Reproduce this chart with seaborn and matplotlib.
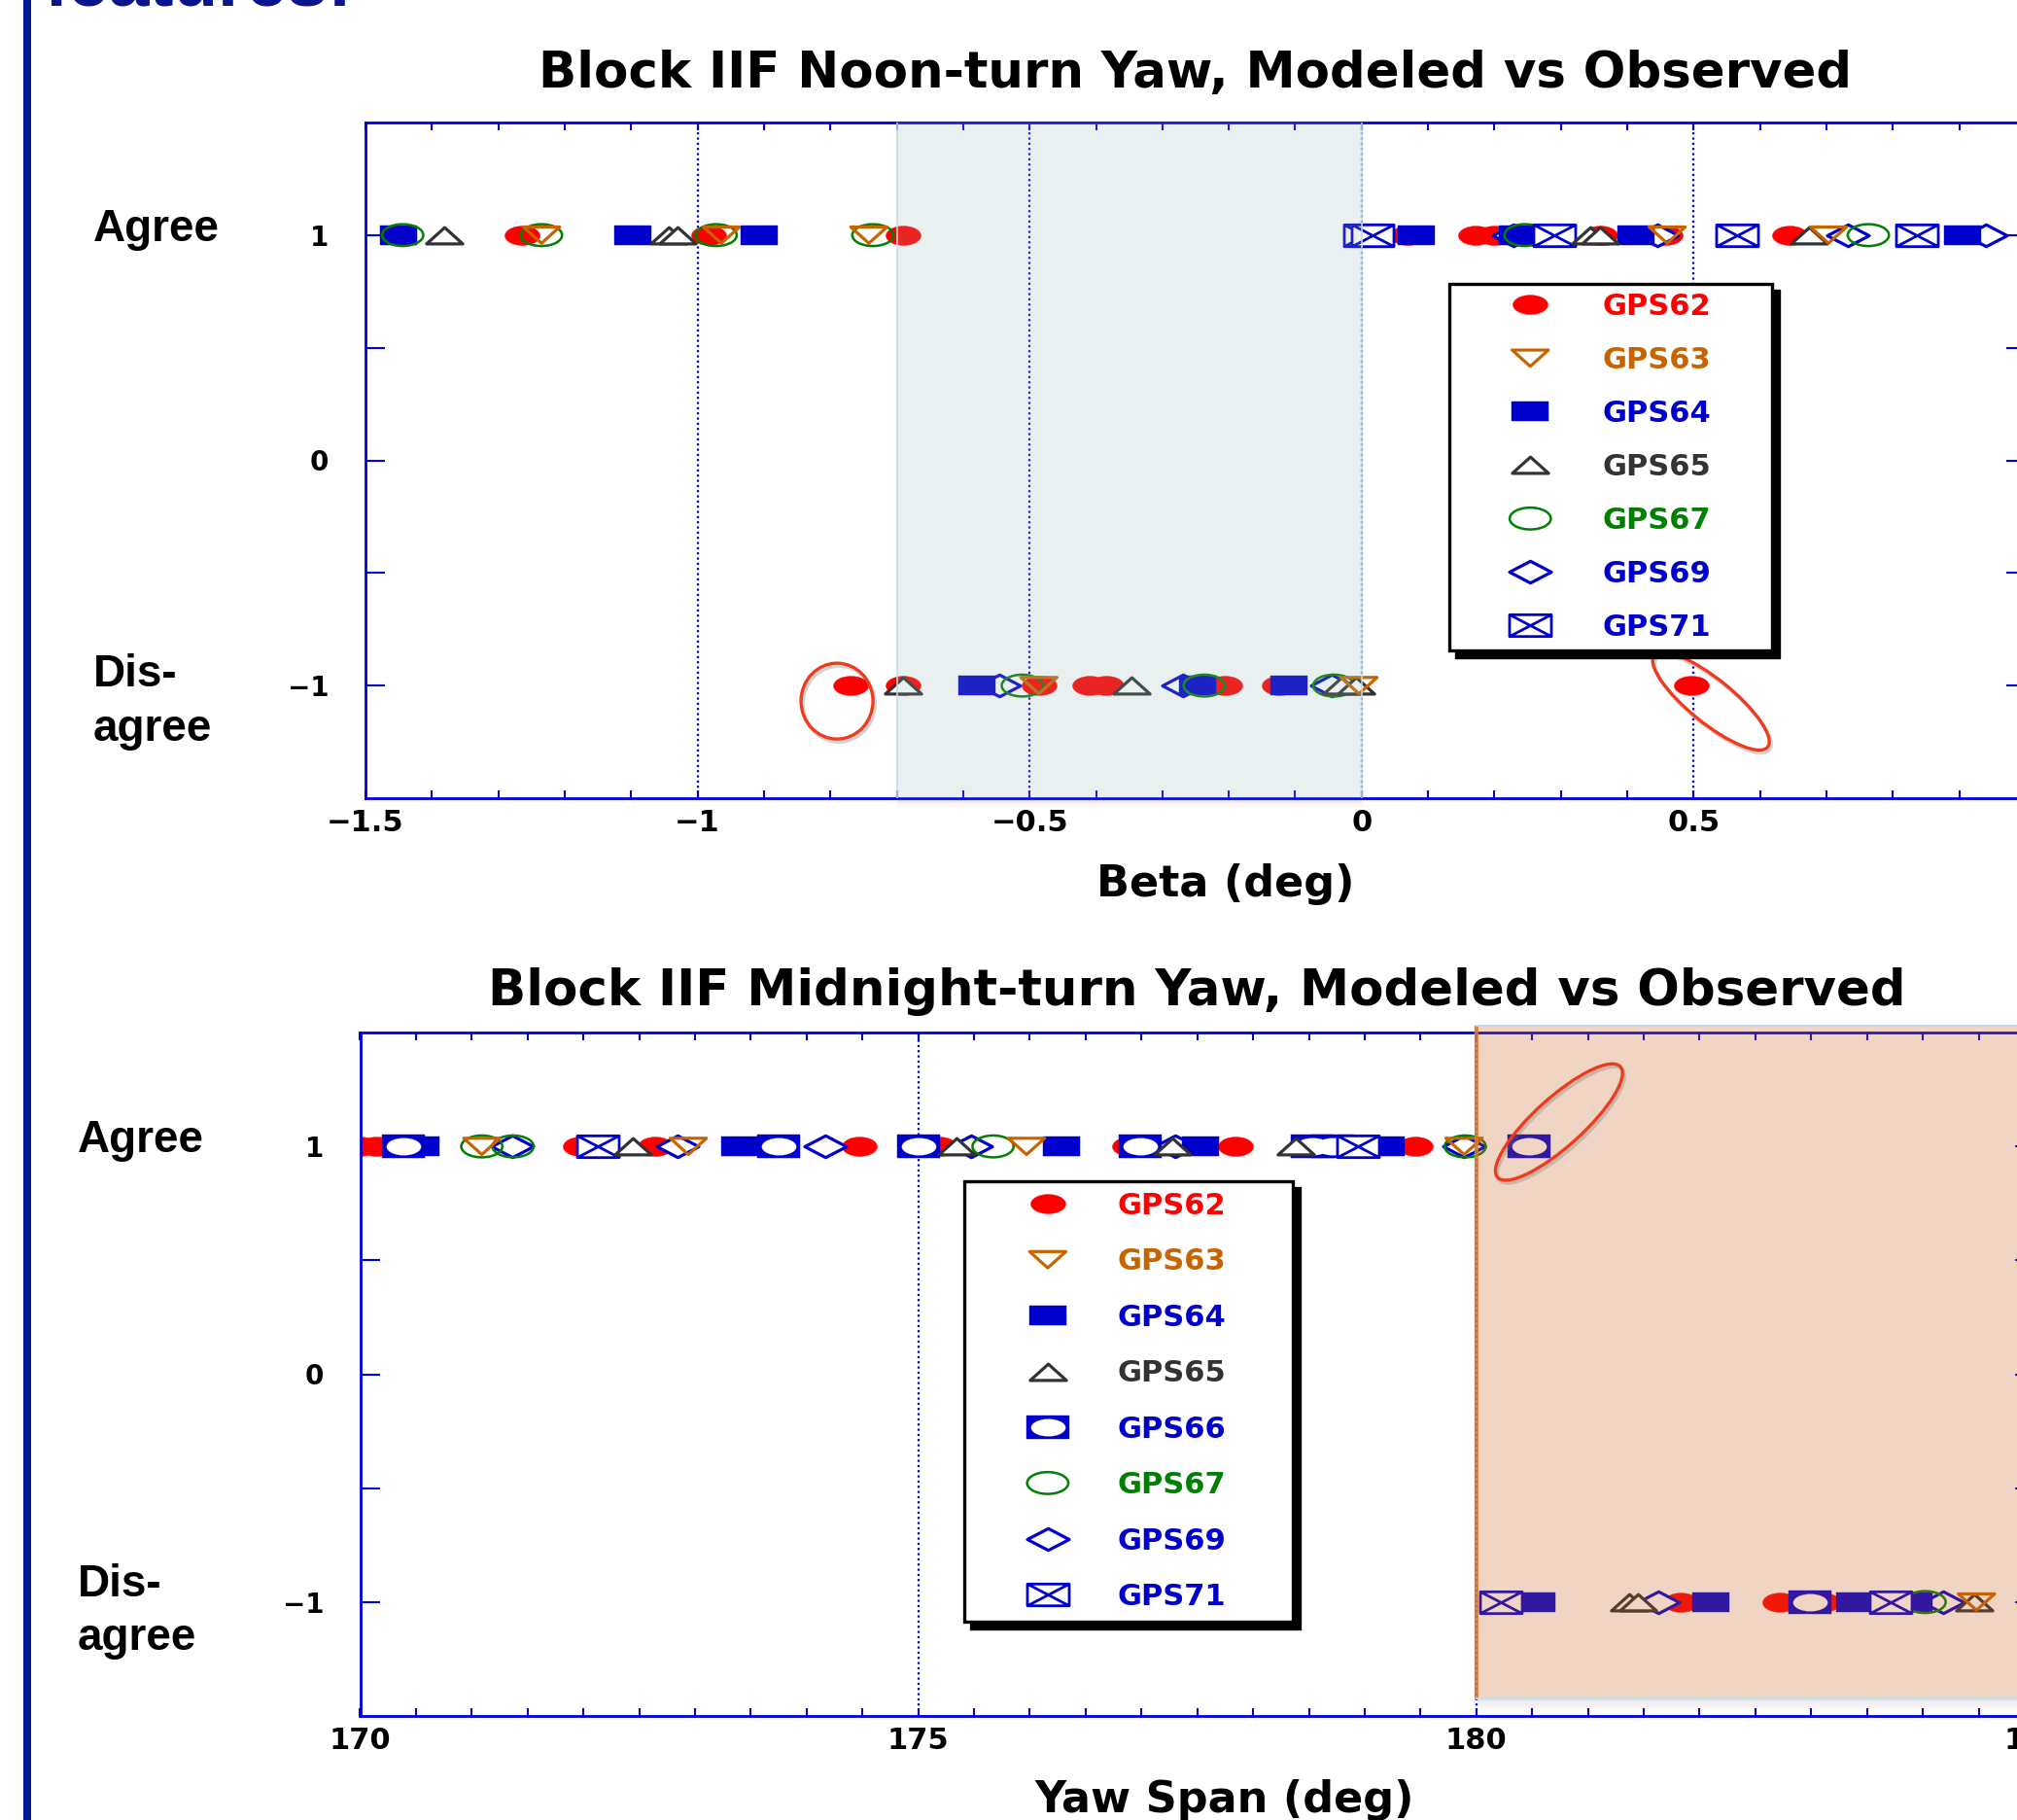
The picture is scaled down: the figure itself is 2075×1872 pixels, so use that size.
import numpy as np
import pandas as pd
import matplotlib
matplotlib.use("Agg")
import matplotlib.pyplot as plt
import matplotlib.transforms as mtransforms
from matplotlib.path import Path
from matplotlib.patches import Rectangle, Ellipse
from matplotlib.ticker import MultipleLocator, FixedLocator, FuncFormatter
import seaborn as sns

# ---------------------------------------------------------------- data
# Noon-turn yaw: beta angle (deg) of each event, split by agreement of model vs observation
noon_gps62_agree = [-1.264, -0.983, -0.691, 0.069, 0.171, 0.199, 0.359, 0.457, 0.644]
noon_gps62_disagree = [-0.770, -0.691, -0.486, -0.410, -0.385, -0.206, -0.124, 0.497]
noon_gps63_agree = [-1.235, -0.964, -0.742, 0.460, 0.703]
noon_gps63_disagree = [-0.486, -0.004]
noon_gps64_agree = [-1.450, -1.098, -0.907, 0.082, 0.234, 0.413, 0.905]
noon_gps64_disagree = [-0.579, -0.247, -0.109]
noon_gps65_agree = [-1.381, -1.043, -1.030, 0.344, 0.359, 0.673]
noon_gps65_disagree = [-0.691, -0.347, -0.030, -0.008]
noon_gps67_agree = [-1.444, -1.235, -0.972, -0.736, 0.246, 0.763]
noon_gps67_disagree = [-0.511, -0.237, -0.042]
noon_gps69_agree = [0.229, 0.445, 0.732, 0.940]
noon_gps69_disagree = [-0.546, -0.269, -0.045]
noon_gps71_agree = [0.005, 0.016, 0.290, 0.565, 0.836]
noon_gps71_disagree = []

# Midnight-turn yaw: yaw span (deg) of each event
mid_gps62_agree = [170.00, 170.14, 171.97, 172.64, 174.47, 175.19, 176.89, 177.84, 179.45]
mid_gps62_disagree = [181.83, 182.72, 183.10]
mid_gps63_agree = [171.09, 172.94, 175.97, 179.89]
mid_gps63_disagree = [184.48]
mid_gps64_agree = [170.54, 173.40, 176.28, 177.53, 179.19]
mid_gps64_disagree = [180.54, 182.10, 183.39, 183.92]
mid_gps65_agree = [172.44, 175.34, 177.28, 178.38]
mid_gps65_disagree = [181.37, 181.45, 184.46]
mid_gps66_agree = [170.39, 173.75, 175.00, 176.99, 178.53, 178.71, 180.47]
mid_gps66_disagree = [182.99]
mid_gps67_agree = [171.09, 171.37, 175.67, 179.90]
mid_gps67_disagree = [184.02]
mid_gps69_agree = [171.36, 172.84, 174.17, 175.47, 177.30, 179.89]
mid_gps69_disagree = [181.63, 184.18]
mid_gps71_agree = [172.13, 178.94]
mid_gps71_disagree = [180.22, 183.71]

NOON_SATS = ["GPS62", "GPS63", "GPS64", "GPS65", "GPS67", "GPS69", "GPS71"]
MID_SATS = ["GPS62", "GPS63", "GPS64", "GPS65", "GPS66", "GPS67", "GPS69", "GPS71"]


def long_table(prefix, sats):
    rows = []
    for sat in sats:
        key = sat.lower()
        for val in globals()[f"{prefix}_{key}_agree"]:
            rows.append((sat, val, 1))
        for val in globals()[f"{prefix}_{key}_disagree"]:
            rows.append((sat, val, -1))
    return pd.DataFrame(rows, columns=["sat", "x", "y"])


noon_df = long_table("noon", NOON_SATS)
mid_df = long_table("mid", MID_SATS)


# ---------------------------------------------------------------- marker shapes
def ellipse_path(ry):
    return Path.unit_circle().transformed(mtransforms.Affine2D().scale(1.0, ry))


def rect_path(ry):
    return Path([(-1, -ry), (1, -ry), (1, ry), (-1, ry), (-1, -ry)],
                [Path.MOVETO, Path.LINETO, Path.LINETO, Path.LINETO, Path.CLOSEPOLY])


def tri_path(hh, up=True):
    s = 1 if up else -1
    return Path([(-1, -s * hh), (1, -s * hh), (0, s * hh), (-1, -s * hh)],
                [Path.MOVETO, Path.LINETO, Path.LINETO, Path.CLOSEPOLY])


def diamond_path(ry):
    return Path([(-1, 0), (0, ry), (1, 0), (0, -ry), (-1, 0)],
                [Path.MOVETO, Path.LINETO, Path.LINETO, Path.LINETO, Path.CLOSEPOLY])


def boxx_path(ry):
    v = [(-1, -ry), (1, -ry), (1, ry), (-1, ry), (-1, -ry),
         (-1, -ry), (1, ry), (-1, ry), (1, -ry)]
    c = [Path.MOVETO, Path.LINETO, Path.LINETO, Path.LINETO, Path.CLOSEPOLY,
         Path.MOVETO, Path.LINETO, Path.MOVETO, Path.LINETO]
    return Path(v, c)


RED = "#FF0000"
ORANGE = "#C86400"
BLUE = "#0000CC"
DGRAY = "#333333"
GREEN = "#008000"

SAT_COLOR = {"GPS62": RED, "GPS63": ORANGE, "GPS64": BLUE, "GPS65": DGRAY,
             "GPS66": BLUE, "GPS67": GREEN, "GPS69": BLUE, "GPS71": BLUE}

# marker, size (pt^2), face, edge, edge width
STYLE = {
    "GPS62": (ellipse_path(0.55), 672, RED, RED, 0.3),
    "GPS63": (tri_path(0.45, up=False), 720, "none", ORANGE, 2.3),
    "GPS64": (rect_path(0.55), 749, BLUE, BLUE, 0.3),
    "GPS65": (tri_path(0.45, up=True), 720, "white", DGRAY, 2.3),
    "GPS66": (rect_path(0.57), 990, BLUE, BLUE, 0.3),
    "GPS67": (ellipse_path(0.53), 930, "none", GREEN, 1.8),
    "GPS69": (diamond_path(0.52), 960, "white", BLUE, 2.3),
    "GPS71": (boxx_path(0.52), 960, "white", BLUE, 2.0),
}
GPS66_HOLE = (ellipse_path(0.5), 650, "white", "white", 0.1)

DRAW_ORDER = ["GPS62", "GPS69", "GPS64", "GPS66", "GPS67", "GPS71", "GPS65", "GPS63"]

AXIS_BLUE = "#0000DD"
NAVY = "#00188F"
RING = "#F03A1C"

# ---------------------------------------------------------------- figure
sns.set_style("white")
plt.rcParams.update({
    "font.family": ["DejaVu Sans"],
    "font.weight": "bold",
    "axes.unicode_minus": True,
    "figure.facecolor": "white",
    "text.color": "black",
    "axes.labelcolor": "black",
    "axes.titlecolor": "black",
    "xtick.color": "black",
    "ytick.color": "black",
})

W, H = 2075, 1872
fig = plt.figure(figsize=(W / 100, H / 100), dpi=100)


def fx(px):
    return px / W


def fy(py):
    return 1 - py / H


ax1 = fig.add_axes([fx(376), fy(821), (2084 - 376) / W, (821 - 126) / H])
ax2 = fig.add_axes([fx(370.5), fy(1765), (2093 - 370.5) / W, (1765 - 1062) / H])


def draw_panel(ax, df, sats):
    handles = {}
    for z, sat in enumerate([s for s in DRAW_ORDER if s in sats]):
        sub = df[df["sat"] == sat]
        mk, s, fc, ec, lw = STYLE[sat]
        sns.scatterplot(data=sub, x="x", y="y", marker=mk, s=s, facecolor=fc,
                        edgecolor=ec, linewidth=lw, ax=ax, zorder=5 + z, legend=False)
        coll = ax.collections[-1]
        if sat == "GPS66":
            mk, s, fc, ec, lw = GPS66_HOLE
            sns.scatterplot(data=sub, x="x", y="y", marker=mk, s=s, facecolor=fc,
                            edgecolor=ec, linewidth=lw, ax=ax, zorder=5.5 + z, legend=False)
            coll = (coll, ax.collections[-1])
        handles[sat] = coll
    return handles


h1 = draw_panel(ax1, noon_df, NOON_SATS)
h2 = draw_panel(ax2, mid_df, MID_SATS)


def make_fmt(last_labelled):
    def _f(v, p):
        if v > last_labelled + 1e-9:
            return ""
        return f"{v:g}".replace("-", "\u2212")
    return FuncFormatter(_f)


def style_axes(ax, xlim, major, minor, last_labelled):
    ax.set_xlim(*xlim)
    ax.set_ylim(-1.5, 1.5)
    ax.set_facecolor("white")
    ax.xaxis.set_major_locator(MultipleLocator(major))
    ax.xaxis.set_minor_locator(MultipleLocator(minor))
    ax.yaxis.set_major_locator(FixedLocator([-1, 0, 1]))
    ax.yaxis.set_minor_locator(FixedLocator([-0.5, 0.5]))
    ax.xaxis.set_major_formatter(make_fmt(last_labelled))
    ax.yaxis.set_major_formatter(make_fmt(10))
    for sp in ax.spines.values():
        sp.set_color(AXIS_BLUE)
        sp.set_linewidth(2.0)
        sp.set_visible(True)
        sp.set_zorder(15)
    ax.tick_params(axis="x", which="both", direction="in", length=6, width=1.5,
                   color=AXIS_BLUE, top=True, bottom=True, pad=8, labelsize=22,
                   labelcolor="black")
    ax.tick_params(axis="y", which="both", direction="in", length=14.5, width=1.5,
                   color=AXIS_BLUE, left=True, right=True, pad=27, labelsize=20,
                   labelcolor="black")
    ax.grid(True, axis="x", which="major", color=AXIS_BLUE,
            linestyle=(0, (1.0, 1.4)), linewidth=1.6)
    ax.grid(False, axis="y")
    ax.set_ylabel("")


style_axes(ax1, (-1.5, 1.0), 0.5, 0.1, 0.5)
style_axes(ax2, (170, 185), 5, 0.5, 185)

ax1.set_title("Block IIF Noon-turn Yaw, Modeled vs Observed", fontsize=37,
              fontweight="bold", pad=26)
ax2.set_title("Block IIF Midnight-turn Yaw, Modeled vs Observed", fontsize=37,
              fontweight="bold", pad=20)
ax1.set_xlabel("Beta (deg)", fontsize=32, fontweight="bold")
ax1.xaxis.set_label_coords(0.518, -0.097)
ax2.set_xlabel("Yaw Span (deg)", fontsize=32, fontweight="bold")
ax2.xaxis.set_label_coords(0.516, -0.093)

# ---------------------------------------------------------------- highlighted spans
TEAL = (152 / 255, 178 / 255, 178 / 255)
ax1.add_patch(Rectangle((-0.7, -1.5), 0.7, 3.0, facecolor=TEAL, alpha=0.2,
                        edgecolor="none", zorder=20))
for xe in (-0.7, 0.0):
    ax1.plot([xe, xe], [-1.5, 1.5], color="#BFDDE3", lw=1.4, alpha=0.8, zorder=20.5)
for k, a in enumerate([0.14, 0.09, 0.05, 0.025]):
    ax1.add_patch(Rectangle((-0.7, -1.5 - (k + 1) * 0.011), 0.7, 0.011, facecolor="0.35",
                            alpha=a, edgecolor="none", clip_on=False, zorder=19))

PEACH = (197 / 255, 93 / 255, 34 / 255)
ax2.add_patch(Rectangle((180, -1.425), 7.0, 2.955, facecolor=PEACH, alpha=0.26,
                        edgecolor="none", clip_on=False, zorder=20))
for k, a in enumerate([0.14, 0.09, 0.05, 0.025]):
    ax2.add_patch(Rectangle((180, -1.425 - (k + 1) * 0.013), 7.0, 0.013, facecolor="0.35",
                            alpha=a, edgecolor="none", clip_on=False, zorder=19))
ax2.plot([179.984, 179.984], [-1.425, 1.53], color="0.55", lw=0.9, clip_on=False, zorder=21)
ax2.plot([180.005, 180.005], [-1.425, 1.53], color="#E07818", lw=1.8, clip_on=False, zorder=21)
for ye in (-1.425, 1.53):
    ax2.plot([180, 187], [ye, ye], color="#BFE0E8", lw=1.4, clip_on=False, zorder=21)


# ---------------------------------------------------------------- call-out rings
def ring(ax, x, y, w_px, h_px, angle):
    base = fig.dpi_scale_trans + mtransforms.ScaledTranslation(x, y, ax.transData)
    ax.add_patch(Ellipse((0.02, -0.03), w_px / 100, h_px / 100, angle=angle, transform=base,
                         fill=False, edgecolor="0.45", alpha=0.3, lw=2.6,
                         clip_on=False, zorder=39))
    ax.add_patch(Ellipse((0, 0), w_px / 100, h_px / 100, angle=angle, transform=base,
                         fill=False, edgecolor=RING, lw=2.4, clip_on=False, zorder=40))


ring(ax1, -0.790, -1.069, 74, 78, 0)
ring(ax1, 0.526, -1.069, 150, 45, -39)
ring(ax2, 180.74, 1.107, 170, 50, 42)

# ---------------------------------------------------------------- legends
ax_left = {ax1: 376, ax2: 370.5}
ax_w = {ax1: 2084 - 376, ax2: 2093 - 370.5}
ax_bot = {ax1: 821, ax2: 1765}
ax_h = {ax1: 821 - 126, ax2: 1765 - 1062}


def add_legend(ax, handles, sats, anchor_px, width_px, spacing, bpad, hlen, tpad, top_px, bottom_px):
    x0 = (anchor_px - ax_left[ax]) / ax_w[ax]
    ytop = (ax_bot[ax] - top_px) / ax_h[ax]
    hgt = (bottom_px - top_px) / ax_h[ax]
    leg = ax.legend([handles[s] for s in sats], sats, loc="upper left",
                    bbox_to_anchor=(x0, ytop - hgt, width_px / ax_w[ax], hgt),
                    mode="expand", borderaxespad=0, frameon=True, fancybox=False,
                    edgecolor="black", framealpha=1, facecolor="white",
                    prop={"family": "DejaVu Sans", "weight": "bold", "size": 22},
                    labelspacing=spacing, borderpad=bpad, handlelength=hlen,
                    handletextpad=tpad, scatterpoints=1, scatteryoffsets=[0.5],
                    shadow={"ox": 5, "oy": -5, "shade": 1.0, "alpha": 1.0})
    leg.get_frame().set_linewidth(2.4)
    leg.set_zorder(50)
    for txt, sat in zip(leg.get_texts(), sats):
        txt.set_color(SAT_COLOR[sat])
    return leg


add_legend(ax1, h1, NOON_SATS, 1491, 332, 0.85, 0.3, 4.85, 0.0, 292, 672)
add_legend(ax2, h2, MID_SATS, 992, 338, 0.93, 0.36, 4.9, -0.1, 1215, 1670)

# ---------------------------------------------------------------- slide furniture
fig.add_artist(Rectangle((fx(24), 0), 8 / W, 1, transform=fig.transFigure,
                         facecolor=NAVY, edgecolor="none", zorder=1))
fig.text(fx(46), fy(5), "features:", fontsize=54, fontweight="bold", color="#0A148C",
         family="Liberation Sans", va="baseline", ha="left")

side = dict(fontsize=33, fontweight="bold", family="Liberation Sans", color="black",
            va="baseline", ha="left")
fig.text(fx(96), fy(248), "Agree", **side)
fig.text(fx(96), fy(706), "Dis-", **side)
fig.text(fx(96), fy(762), "agree", **side)
fig.text(fx(80), fy(1185), "Agree", **side)
fig.text(fx(80), fy(1642), "Dis-", **side)
fig.text(fx(80), fy(1697), "agree", **side)

fig.savefig("out.png", dpi=100)
